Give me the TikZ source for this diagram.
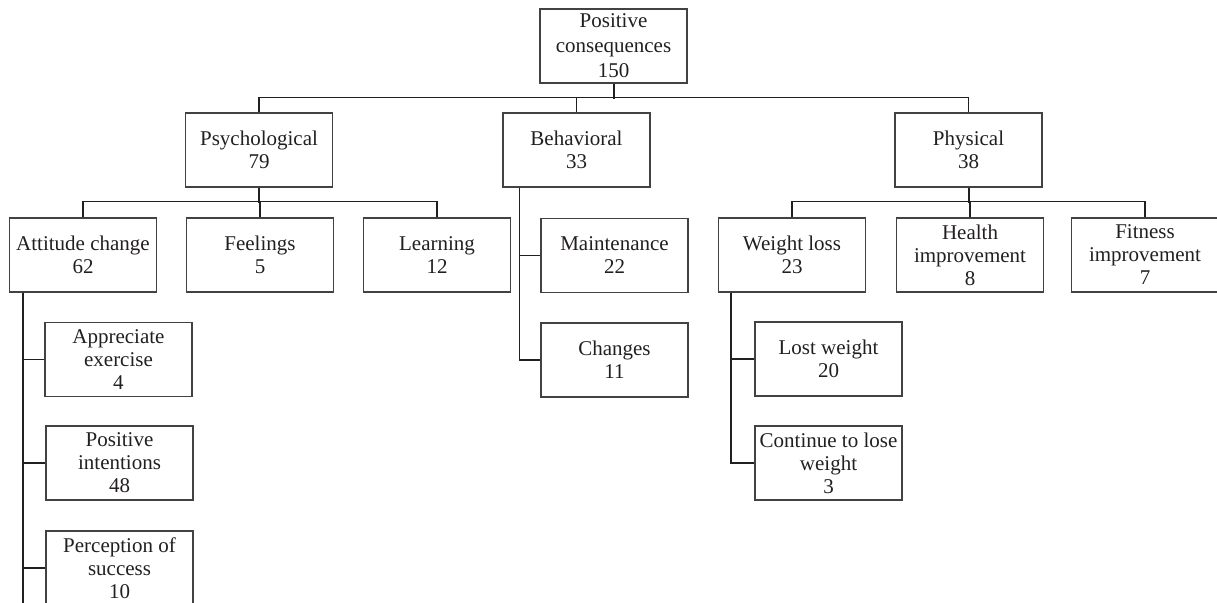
\documentclass[tikz,border=0pt]{standalone}
\usepackage{fontspec}
\setmainfont{Liberation Serif}
\usepackage{xcolor}
\usepackage{tikz}
\usetikzlibrary{positioning}
\definecolor{ink}{RGB}{35,31,32}

\begin{document}
\begin{tikzpicture}[x=0.5pt, y=-0.5pt, line width=0.65pt, draw=ink,
            box/.style = {draw=ink!85, rectangle, align=center,
                minimum width=73.5pt, minimum height=37pt, inner sep=0pt,
                text=ink, font=\fontsize{10.5}{11.5}\selectfont},
            stem/.style = {line width=1pt}]
        \useasboundingbox (0,0) rectangle (1217,603);

        % Root
        \node[box, font=\fontsize{10.5}{12.5}\selectfont] (root) at (613.5,46) {Positive\\consequences\\150};

        % Level 1
        \node[box] (psy) at (259,150) {Psychological\\79};
        \node[box] (beh) at (576.5,150) {Behavioral\\33};
        \node[box] (phy) at (968.5,150) {Physical\\38};

        % Psychological
        \node[box] (att) at (83,255) {Attitude change\\62};
        \node[box] (fee) at (260,255) {Feelings\\5};
        \node[box] (lea) at (437,255) {Learning\\12};

        % Attitude change
        \node[box] (app) at (118.5,359.5) {Appreciate\\exercise\\4};
        \node[box] (pint) at (119.5,463) {Positive\\intentions\\48};
        \node[box] (perc) at (119.5,568) {Perception of\\success\\10};

        % Behavioral
        \node[box] (mai) at (614.5,255.5) {Maintenance\\22};
        \node[box] (cha) at (614.5,360) {Changes\\11};

        % Physical
        \node[box] (wei) at (792,255) {Weight loss\\23};
        \node[box] (hea) at (970,255) {Health\\improvement\\8};
        \node[box] (fit) at (1145,255) {Fitness\\improvement\\7};

        % Weight loss
        \node[box] (los) at (828.5,359) {Lost weight\\20};
        \node[box] (con) at (828.5,463) {Continue to lose\\weight\\3};

        % Root links
        \draw[stem] (root.south) -- ++(0,15.5);
        \draw (psy.north) -- ++(0,-15) -| (phy.north);
        \draw (beh.north) -- ++(0,-15);

        % Level 1 links
        \draw[stem] (psy.south) -- ++(0,15);
        \draw (att.north) -- ++(0,-16) -| (lea.north);
        \draw (fee.north) -- ++(0,-16);
        \draw[stem] (phy.south) -- ++(0,15);
        \draw (wei.north) -- ++(0,-16) -| (fit.north);
        \draw (hea.north) -- ++(0,-16);

        % Side lists
        \draw ([xshift=7pt]att.south west) -- ([xshift=7pt]att.south west |- perc.south);
        \foreach \kid in {app,pint,perc}
            \draw ([xshift=7pt]att.south west) |- (\kid.west);
        \foreach \kid in {mai,cha}
            \draw ([xshift=8.5pt]beh.south west) |- (\kid.west);
        \foreach \kid in {los,con}
            \draw ([xshift=6.5pt]wei.south west) |- (\kid.west);

        \end{tikzpicture}
\end{document}
